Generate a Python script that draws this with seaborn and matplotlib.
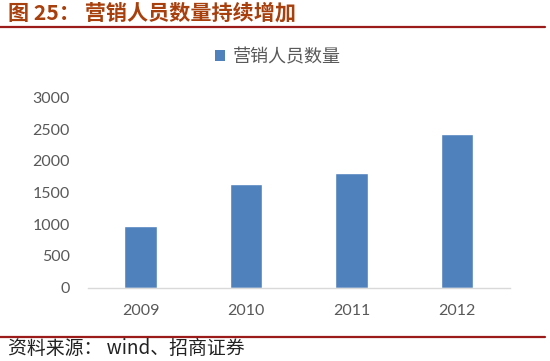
import pandas as pd
import seaborn as sns
import matplotlib.pyplot as plt
from matplotlib.lines import Line2D
from matplotlib.patches import Patch

# data
years = ['2009', '2010', '2011', '2012']
sales_staff = [970, 1630, 1810, 2420]
series_name = '营销人员数量'

df = pd.DataFrame({'year': years, 'staff': sales_staff})

sns.set_style('white')
plt.rcParams['font.family'] = ['Lato', 'Noto Sans CJK SC', 'DejaVu Sans']

fig = plt.figure(figsize=(5.5, 3.61), dpi=100)
ax = fig.add_axes([0.1595, 0.203, 0.7675, 0.5275])

bar_color = '#4F81BD'
text_gray = '#595959'
sns.barplot(data=df, x='year', y='staff', color=bar_color, width=0.31,
            saturation=1, ax=ax)

ax.set_ylim(0, 3000)
ax.set_yticks(range(0, 3001, 500))
ax.set_xlabel('')
ax.set_ylabel('')
ax.tick_params(axis='both', length=0, labelsize=11.5, labelcolor=text_gray)
ax.tick_params(axis='y', pad=13)
ax.tick_params(axis='x', pad=12)
for side in ['top', 'right', 'left']:
    ax.spines[side].set_visible(False)
ax.spines['bottom'].set_color('#D9D9D9')
ax.spines['bottom'].set_linewidth(1)

# legend above the plot
handle = Patch(facecolor=bar_color, edgecolor='none')
leg = fig.legend([handle], [series_name], loc='center', bbox_to_anchor=(0.505, 0.842),
                 frameon=False, handlelength=0.55, handleheight=0.55,
                 handletextpad=0.45, prop={'family': ['Noto Sans CJK SC'], 'size': 13})
for t in leg.get_texts():
    t.set_color(text_gray)

# title and source text with red rules
title_color = '#A8400E'
fig.text(0.014, 0.963, '图 25： 营销人员数量持续增加', fontsize=15.2, fontweight='bold',
         color=title_color, va='center', ha='left',
         family=['Noto Sans CJK SC', 'DejaVu Sans'])
rule_color = '#9B1B1B'
fig.add_artist(Line2D([0.0, 0.99], [1 - 26.7 / 361, 1 - 26.7 / 361],
                      color=rule_color, linewidth=1.6, transform=fig.transFigure))
fig.add_artist(Line2D([0.0, 0.99], [1 - 336.7 / 361, 1 - 336.7 / 361],
                      color=rule_color, linewidth=1.6, transform=fig.transFigure))
fig.text(0.014, 1 - 349 / 361, '资料来源： wind、招商证券', fontsize=13.6, color='#222222',
         va='center', ha='left', family=['Noto Sans CJK SC', 'DejaVu Sans'])

fig.savefig('out.png', dpi=100)
